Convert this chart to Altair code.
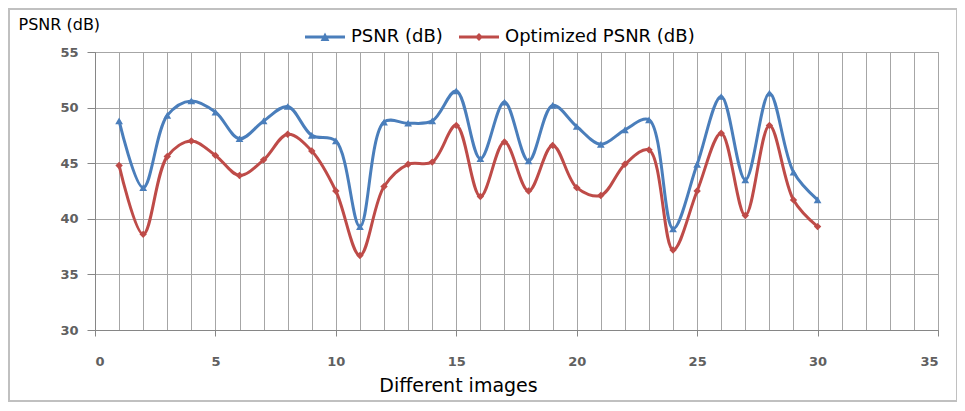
import altair as alt
import pandas as pd

images = list(range(1, 31))
psnr = [48.8, 42.8, 49.3, 50.6, 49.6, 47.2, 48.8, 50.1, 47.5, 47.0,
        39.3, 48.7, 48.6, 48.8, 51.5, 45.4, 50.5, 45.2, 50.2, 48.3,
        46.7, 48.0, 48.9, 39.1, 44.9, 51.0, 43.5, 51.3, 44.2, 41.7]
opt_psnr = [44.8, 38.6, 45.6, 47.0, 45.7, 43.9, 45.3, 47.6, 46.1, 42.5,
            36.7, 42.9, 44.9, 45.1, 48.4, 42.0, 46.9, 42.5, 46.6, 42.8,
            42.1, 44.9, 46.2, 37.2, 42.5, 47.7, 40.3, 48.4, 41.7, 39.3]
series_names = ["PSNR (dB)", "Optimized PSNR (dB)"]
x_ticks = list(range(0, 36))
y_ticks = [30, 35, 40, 45, 50, 55]

BLUE = "#4A7EBB"
RED = "#BE4B48"
FONT = "DejaVu Sans"

df = pd.DataFrame({
    "image": images * 2,
    "value": psnr + opt_psnr,
    "series": [series_names[0]] * len(images) + [series_names[1]] * len(images),
})

x_enc = alt.X(
    "image:Q",
    scale=alt.Scale(domain=[0, 35], nice=False, zero=False),
    axis=alt.Axis(
        values=x_ticks,
        labelExpr="datum.value % 5 === 0 ? datum.label : ''",
        grid=True, gridColor="#a6a6a6", gridWidth=1,
        domain=True, domainColor="#868686",
        tickColor={"condition": {"test": "datum.value % 5 === 0", "value": "#868686"}, "value": "transparent"},
        tickSize=6, labelPadding=19,
        labelFont=FONT, labelFontSize=13, labelFontWeight="bold", labelColor="#606060",
        title="Different images", titleFont=FONT, titleFontSize=19,
        titleFontWeight="normal", titleColor="#000000",
        titleX=363, titleY=55, titleAnchor="middle", titleAlign="center",
        titleBaseline="middle",
    ),
)
y_enc = alt.Y(
    "value:Q",
    scale=alt.Scale(domain=[30, 55], nice=False, zero=False),
    axis=alt.Axis(
        values=y_ticks,
        grid=True, gridColor="#a6a6a6", gridWidth=1,
        domain=True, domainColor="#868686",
        tickColor="#868686", tickSize=8, labelPadding=9,
        labelFont=FONT, labelFontSize=13, labelFontWeight="bold", labelColor="#606060",
        title="PSNR (dB)", titleFont=FONT, titleFontSize=16,
        titleFontWeight="normal", titleColor="#000000",
        titleAngle=0, titleX=-77, titleY=-28, titleAlign="left",
        titleBaseline="middle",
    ),
)

base = alt.Chart(df)

line_blue = base.transform_filter(alt.datum.series == series_names[0]).mark_line(
    interpolate="catmull-rom", strokeWidth=3, color=BLUE
).encode(x=x_enc, y=y_enc)
line_red = base.transform_filter(alt.datum.series == series_names[1]).mark_line(
    interpolate="catmull-rom", strokeWidth=3, color=RED
).encode(x=x_enc, y=y_enc)

pts_blue = base.transform_filter(alt.datum.series == series_names[0]).mark_point(
    shape="triangle-up", filled=True, size=60, opacity=1, color=BLUE
).encode(x=x_enc, y=y_enc)
pts_red = base.transform_filter(alt.datum.series == series_names[1]).mark_point(
    shape="diamond", filled=True, size=55, opacity=1, color=RED
).encode(x=x_enc, y=y_enc)

legend_paths = [
    "M-1,-0.07L1,-0.07L1,0.07L-1,0.07Z M-0.22,0.2L0,-0.22L0.22,0.2Z",
    "M-1,-0.07L1,-0.07L1,0.07L-1,0.07Z M0,-0.2L0.2,0L0,0.2L-0.2,0Z",
]
leg = alt.Legend(
    title=None, orient="none", legendX=210, legendY=-35, direction="horizontal",
    columns=2, columnPadding=16, labelFont=FONT, labelFontSize=18, labelLimit=400,
    labelColor="#000000", symbolSize=1600, labelOffset=6, symbolStrokeWidth=0,
)
legend_layer = base.transform_filter("false").mark_point(filled=True, opacity=1).encode(
    x=x_enc, y=y_enc,
    color=alt.Color("series:N", scale=alt.Scale(domain=series_names, range=[BLUE, RED]), legend=leg),
    shape=alt.Shape("series:N", scale=alt.Scale(domain=series_names, range=legend_paths), legend=leg),
)

frame = alt.Chart(pd.DataFrame({"a": [0]})).mark_rect(
    fillOpacity=0, stroke="#c0c0c0", strokeWidth=2
).encode(x=alt.value(-86), x2=alt.value(862), y=alt.value(-43), y2=alt.value(349))

chart = alt.layer(
    frame, line_blue, line_red, pts_blue, pts_red, legend_layer
).properties(
    width=843, height=278, autosize="none",
    padding={"left": 87, "top": 44, "right": 19, "bottom": 73},
).configure_view(stroke="#868686", strokeWidth=1)

chart.save("out.html", embed_options={"renderer": "svg", "actions": False})
